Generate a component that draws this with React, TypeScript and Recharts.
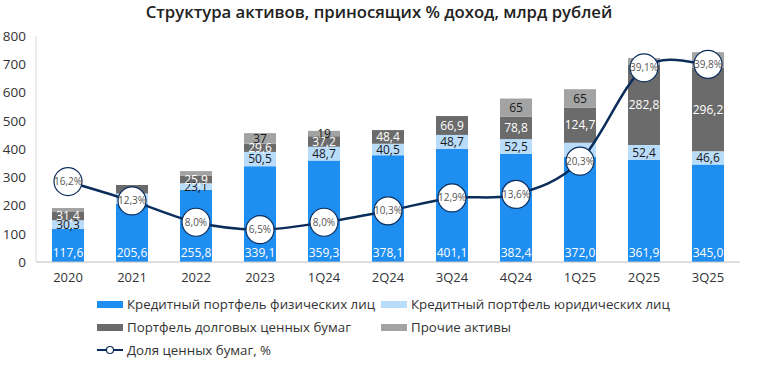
import { ComposedChart, Bar, Line, XAxis, YAxis, LabelList } from 'recharts';

const categories = ['2020', '2021', '2022', '2023', '1Q24', '2Q24', '3Q24', '4Q24', '1Q25', '2Q25', '3Q25'];
const retailLoans = [117.6, 205.6, 255.8, 339.1, 359.3, 378.1, 401.1, 382.4, 372.0, 361.9, 345.0];
const corporateLoans = [30.3, 37, 23.1, 50.5, 48.7, 40.5, 48.7, 52.5, 50, 52.4, 46.6];
const debtSecurities = [31.4, 30, 25.9, 29.6, 37.2, 48.4, 66.9, 78.8, 124.7, 282.8, 296.2];
const otherAssets = [12, 0, 17, 37, 19, 0, 0, 65, 65, 25, 55];
const securitiesShare = [16.2, 12.3, 8.0, 6.5, 8.0, 10.3, 12.9, 13.6, 20.3, 39.1, 39.8];

// which segments carry a value label in the original
const corporateShown = [true, false, true, true, true, true, true, true, false, true, true];
const debtShown = [true, false, true, true, true, true, true, true, true, true, true];
const otherShown = [false, false, false, true, true, false, false, true, true, false, false];

const yTicks = [0, 100, 200, 300, 400, 500, 600, 700, 800];

const FONT = "'Open Sans', sans-serif";
const COLORS = {
  retail: '#1f8ef1',
  corporate: '#b9dcfa',
  debt: '#6b6b6b',
  other: '#a3a3a3',
  line: '#0b2d5b',
};

const fmt1 = (v: number) => v.toFixed(1).replace('.', ',');

const data = categories.map((name, i) => ({
  name,
  retail: retailLoans[i],
  corporate: corporateLoans[i],
  debt: debtSecurities[i],
  other: otherAssets[i],
  share: securitiesShare[i],
  retailLabel: fmt1(retailLoans[i]),
  corporateLabel: corporateShown[i] ? fmt1(corporateLoans[i]) : '',
  debtLabel: debtShown[i] ? fmt1(debtSecurities[i]) : '',
  otherLabel: otherShown[i] ? String(Math.round(otherAssets[i])) : '',
  shareLabel: fmt1(securitiesShare[i]) + '%',
}));

// Excel-like smoothing (Catmull-Rom through every point)
const smoothCurve = (context: any) => {
  let pts: [number, number][] = [];
  return {
    areaStart() {},
    areaEnd() {},
    lineStart() {
      pts = [];
    },
    point(x: number, y: number) {
      pts.push([+x, +y]);
    },
    lineEnd() {
      if (!pts.length) return;
      context.moveTo(pts[0][0], pts[0][1]);
      const t = 1 / 6;
      for (let i = 0; i < pts.length - 1; i++) {
        const p0 = pts[i - 1] || pts[i];
        const p1 = pts[i];
        const p2 = pts[i + 1];
        const p3 = pts[i + 2] || p2;
        context.bezierCurveTo(
          p1[0] + (p2[0] - p0[0]) * t,
          p1[1] + (p2[1] - p0[1]) * t,
          p2[0] - (p3[0] - p1[0]) * t,
          p2[1] - (p3[1] - p1[1]) * t,
          p2[0],
          p2[1]
        );
      }
    },
  };
};

const legendItems = [
  { label: 'Кредитный портфель физических лиц', color: COLORS.retail, x: 97, y: 304 },
  { label: 'Кредитный портфель юридических лиц', color: COLORS.corporate, x: 381, y: 304 },
  { label: 'Портфель долговых ценных бумаг', color: COLORS.debt, x: 97, y: 327 },
  { label: 'Прочие активы', color: COLORS.other, x: 381, y: 327 },
];

const App = () => {
  return (
    <div style={{ position: 'absolute', left: 0, top: 0, width: 758, height: 375, background: '#fff', fontFamily: FONT }}>
      <div
        style={{
          position: 'absolute',
          top: 0,
          left: 0,
          width: 758,
          textAlign: 'center',
          fontSize: 16.7,
          fontWeight: 600,
          color: '#222',
        }}
      >
        Структура активов, приносящих % доход, млрд рублей
      </div>
      <ComposedChart
        width={758}
        height={375}
        data={data}
        margin={{ top: 36, right: 18, left: 0, bottom: 83 }}
        barCategoryGap="50%"
      >
        <XAxis
          dataKey="name"
          tickLine={false}
          tickSize={0}
          tickMargin={11}
          axisLine={{ stroke: '#bfbfbf' }}
          tick={{ fill: '#333', fontSize: 13, fontFamily: FONT }}
          height={30}
          interval={0}
        />
        <YAxis
          yAxisId="left"
          width={36}
          domain={[0, 800]}
          ticks={yTicks}
          tickLine={false}
          tickSize={0}
          tickMargin={10}
          axisLine={{ stroke: '#d9d9d9' }}
          tick={{ fill: '#333', fontSize: 13.5, fontFamily: FONT }}
        />
        <YAxis yAxisId="right" orientation="right" domain={[0, 45.5]} hide />
        <Bar yAxisId="left" dataKey="retail" stackId="a" fill={COLORS.retail} barSize={32} isAnimationActive={false}>
          <LabelList dataKey="retailLabel" position="insideBottom" offset={5} fill="#fff" fontSize={12} fontFamily={FONT} />
        </Bar>
        <Bar yAxisId="left" dataKey="corporate" stackId="a" fill={COLORS.corporate} barSize={32} isAnimationActive={false}>
          <LabelList dataKey="corporateLabel" position="center" fill="#1a1a1a" fontSize={12} fontFamily={FONT} />
        </Bar>
        <Bar yAxisId="left" dataKey="debt" stackId="a" fill={COLORS.debt} barSize={32} isAnimationActive={false}>
          <LabelList dataKey="debtLabel" position="center" fill="#fff" fontSize={12} fontFamily={FONT} />
        </Bar>
        <Bar yAxisId="left" dataKey="other" stackId="a" fill={COLORS.other} barSize={32} isAnimationActive={false}>
          <LabelList dataKey="otherLabel" position="center" fill="#1a1a1a" fontSize={12} fontFamily={FONT} />
        </Bar>
        <Line
          yAxisId="right"
          dataKey="share"
          type={smoothCurve as any}
          stroke={COLORS.line}
          strokeWidth={2.5}
          dot={{ r: 14, fill: '#fff', stroke: COLORS.line, strokeWidth: 1.2 }}
          activeDot={false}
          isAnimationActive={false}
        >
          <LabelList dataKey="shareLabel" position="center" fill="#555" fontSize={10} fontFamily={FONT} />
        </Line>
      </ComposedChart>
      {legendItems.map((item) => (
        <div
          key={item.label}
          style={{
            position: 'absolute',
            left: item.x,
            top: item.y - 9,
            height: 18,
            display: 'flex',
            alignItems: 'center',
            fontSize: 13.3,
            color: '#333',
            whiteSpace: 'nowrap',
          }}
        >
          <span style={{ display: 'inline-block', width: 26, height: 7, background: item.color, marginRight: 4 }} />
          {item.label}
        </div>
      ))}
      <div
        style={{
          position: 'absolute',
          left: 97,
          top: 341,
          height: 18,
          display: 'flex',
          alignItems: 'center',
          fontSize: 13.3,
          color: '#333',
          whiteSpace: 'nowrap',
        }}
      >
        <svg width={26} height={10} style={{ marginRight: 4 }}>
          <line x1={0} y1={5} x2={26} y2={5} stroke={COLORS.line} strokeWidth={2} />
          <circle cx={13} cy={5} r={3.5} fill="#fff" stroke={COLORS.line} strokeWidth={1.2} />
        </svg>
        Доля ценных бумаг, %
      </div>
    </div>
  );
};

export default App;
